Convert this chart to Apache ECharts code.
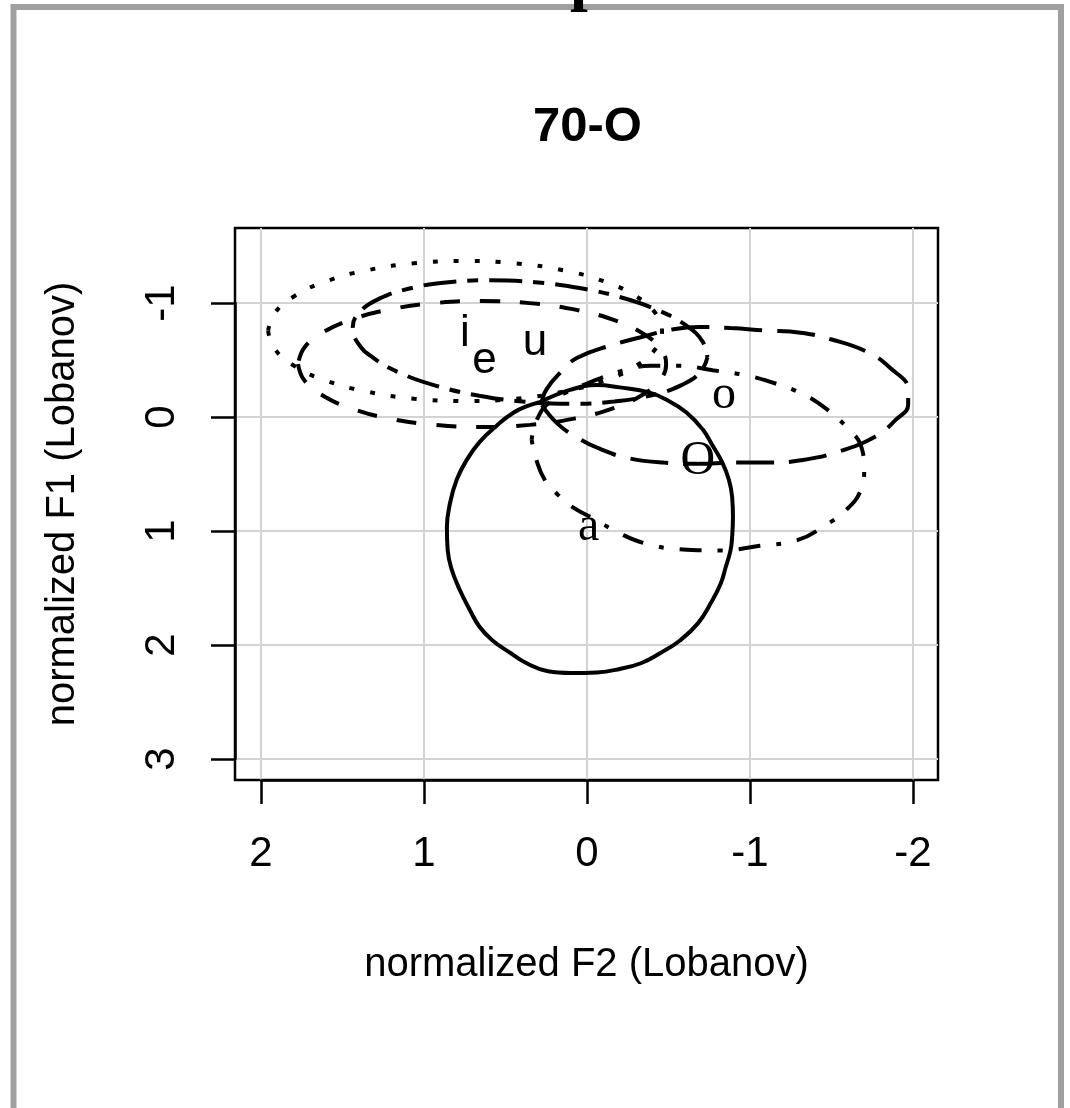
<!DOCTYPE html>
<html>
<head>
<meta charset="utf-8">
<script src="https://cdn.jsdelivr.net/npm/echarts@6.0.0/dist/echarts.min.js"></script>
<style>
  html, body { margin: 0; padding: 0; background: #fff; }
  #chart { width: 1070px; height: 1108px; }
</style>
</head>
<body>
<div id="chart"></div>
<script>
// tick values
const f2Ticks = [2, 1, 0, -1, -2];
const f1Ticks = [-1, 0, 1, 2, 3];

// vowel labels (mean positions), F2 / F1
const vowelNames = ['i', 'e', 'u', 'o', 'O', 'a'];
const vowelF2 = [0.75, 0.63, 0.32, -0.84, -0.68, -0.01];
const vowelF1 = [-0.73, -0.49, -0.65, -0.19, 0.39, 0.97];
const vowelSerif = [false, false, false, true, true, true];

// ellipse outlines, [F2, F1]
const ellipseA = [
  [0.29, -0.13], [0.10, -0.24], [-0.06, -0.28], [-0.20, -0.26], [-0.37, -0.22], [-0.49, -0.15],
  [-0.61, -0.04], [-0.71, 0.11], [-0.77, 0.25], [-0.83, 0.40], [-0.87, 0.55], [-0.89, 0.70],
  [-0.895, 0.88], [-0.89, 1.05], [-0.88, 1.17], [-0.85, 1.32], [-0.82, 1.46], [-0.76, 1.63],
  [-0.68, 1.81], [-0.57, 1.96], [-0.45, 2.07], [-0.33, 2.16], [-0.20, 2.21], [-0.06, 2.24],
  [0.10, 2.245], [0.24, 2.23], [0.37, 2.16], [0.47, 2.07], [0.58, 1.96], [0.66, 1.84],
  [0.72, 1.69], [0.78, 1.52], [0.83, 1.34], [0.855, 1.17], [0.86, 0.97], [0.84, 0.75],
  [0.80, 0.55], [0.74, 0.38], [0.66, 0.22], [0.55, 0.07], [0.45, -0.04], [0.36, -0.10]
];
const ellipseE = [
  [1.773, -0.465], [1.735, -0.322], [1.622, -0.189], [1.442, -0.074], [1.209, 0.014], [0.936, 0.069],
  [0.644, 0.088], [0.352, 0.069], [0.080, 0.014], [-0.154, -0.074], [-0.333, -0.189], [-0.446, -0.322],
  [-0.485, -0.465], [-0.446, -0.608], [-0.333, -0.741], [-0.154, -0.856], [0.080, -0.944], [0.352, -0.999],
  [0.644, -1.017], [0.936, -0.999], [1.209, -0.944], [1.442, -0.856], [1.622, -0.741], [1.735, -0.608]
];
const ellipseI = [
  [1.957, -0.754], [1.916, -0.596], [1.795, -0.447], [1.603, -0.320], [1.353, -0.223], [1.061, -0.161],
  [0.749, -0.140], [0.436, -0.161], [0.144, -0.223], [-0.106, -0.320], [-0.298, -0.447], [-0.419, -0.596],
  [-0.460, -0.754], [-0.419, -0.913], [-0.298, -1.061], [-0.106, -1.189], [0.144, -1.286], [0.436, -1.348],
  [0.749, -1.368], [1.061, -1.348], [1.353, -1.286], [1.603, -1.189], [1.795, -1.061], [1.916, -0.913]
];
const ellipseOpen = [
  [0.34, 0.20], [0.31, 0.38], [0.26, 0.55], [0.18, 0.68], [0.10, 0.78], [-0.05, 0.90],
  [-0.20, 1.02], [-0.36, 1.11], [-0.57, 1.16], [-0.82, 1.17], [-1.06, 1.13], [-1.29, 1.08],
  [-1.44, 0.97], [-1.60, 0.80], [-1.68, 0.64], [-1.70, 0.47], [-1.68, 0.25], [-1.60, 0.10],
  [-1.46, -0.08], [-1.31, -0.21], [-1.12, -0.31], [-0.96, -0.37], [-0.77, -0.41], [-0.57, -0.45],
  [-0.39, -0.45], [-0.23, -0.41], [-0.08, -0.34], [0.07, -0.25], [0.23, -0.13], [0.31, 0.03]
];
const ellipseO = [
  [0.28, -0.11], [0.25, -0.24], [0.15, -0.41], [0.06, -0.52], [-0.15, -0.63], [-0.33, -0.70],
  [-0.53, -0.77], [-0.69, -0.79], [-0.88, -0.78], [-1.09, -0.76], [-1.31, -0.74], [-1.50, -0.68],
  [-1.72, -0.57], [-1.86, -0.43], [-1.97, -0.24], [-1.97, -0.11], [-1.89, 0.03], [-1.77, 0.17],
  [-1.53, 0.31], [-1.31, 0.38], [-1.11, 0.40], [-0.89, 0.40], [-0.69, 0.41], [-0.47, 0.40],
  [-0.25, 0.36], [-0.08, 0.28], [0.06, 0.18], [0.18, 0.06]
];
const ellipseU = [
  [-0.738, -0.522], [-0.693, -0.390], [-0.576, -0.278], [-0.397, -0.191], [-0.166, -0.136], [0.099, -0.116],
  [0.382, -0.134], [0.662, -0.187], [0.921, -0.272], [1.142, -0.383], [1.307, -0.514], [1.409, -0.654],
  [1.437, -0.794], [1.392, -0.925], [1.275, -1.038], [1.096, -1.125], [0.866, -1.180], [0.600, -1.199],
  [0.318, -1.182], [0.037, -1.129], [-0.222, -1.044], [-0.442, -0.932], [-0.608, -0.803], [-0.709, -0.662]
];

const SANS = "'Liberation Sans', Arial, sans-serif";
const SERIF = "'Liberation Serif', 'Times New Roman', serif";

// R line types: solid, dashed, dotted, dotdash, longdash, twodash
const DASHED = [20, 20];
const DOTTED = [5, 16];
const DOTDASH = [5, 16, 22, 16];
const LONGDASH = [38, 15];
const TWODASH = [11, 11, 33, 11];

function ellipseSeries(name, pts, dash) {
  return {
    name: name,
    type: 'line',
    xAxisIndex: 0,
    yAxisIndex: 0,
    data: pts.concat([pts[0]]),
    symbol: 'none',
    smooth: 0.45,
    silent: true,
    z: 3,
    lineStyle: { color: '#000', width: 4, type: dash, cap: 'butt' }
  };
}

const chart = echarts.init(document.getElementById('chart'), null, { renderer: 'canvas' });

const labelData = vowelNames.map((n, k) => ({
  name: n,
  value: [vowelF2[k], vowelF1[k]],
  label: { fontFamily: vowelSerif[k] ? SERIF : SANS, fontSize: vowelSerif[k] ? 48 : 44 }
}));

const option = {
  backgroundColor: '#fff',
  animation: false,
  graphic: [{
    type: 'rect',
    z: -1,
    shape: { x: 13.5, y: 7, width: 1047.5, height: 1200 },
    style: { fill: 'none', stroke: '#a0a0a0', lineWidth: 6 }
  }],
  title: [
    {
      text: '70-O',
      left: 528,
      top: 98,
      textStyle: { fontFamily: SANS, fontSize: 49, fontWeight: 'bold', color: '#000' }
    },
    {
      text: 'p',
      left: 565,
      top: -56,
      z: 10,
      textStyle: { fontFamily: SERIF, fontSize: 64, fontWeight: 'bold', color: '#000' }
    }
  ],
  grid: [
    { left: 235, top: 228, width: 703, height: 552, show: true, borderColor: '#000', borderWidth: 2.5, backgroundColor: 'transparent' },
    { left: 261, top: 228, width: 652, height: 552 },
    { left: 235, top: 303, width: 703, height: 456 }
  ],
  xAxis: [
    {
      gridIndex: 0, type: 'value', min: -2.153, max: 2.16, inverse: true,
      axisLine: { show: false }, axisTick: { show: false }, axisLabel: { show: false }, splitLine: { show: false },
      name: 'normalized F2 (Lobanov)', nameLocation: 'middle', nameGap: 165,
      nameTextStyle: { fontFamily: SANS, fontSize: 40, color: '#000' }
    },
    {
      gridIndex: 1, type: 'value', min: f2Ticks[4], max: f2Ticks[0], interval: 1, inverse: true,
      axisLine: { show: true, lineStyle: { color: '#000', width: 2.5 } },
      axisTick: { show: true, length: 24, lineStyle: { color: '#000', width: 2.5 } },
      axisLabel: { fontFamily: SANS, fontSize: 42, color: '#000', margin: 53 },
      splitLine: { show: true, lineStyle: { color: '#d3d3d3', width: 2 } }
    },
    { gridIndex: 2, type: 'value', show: false }
  ],
  yAxis: [
    {
      gridIndex: 0, type: 'value', min: -1.658, max: 3.184, inverse: true,
      axisLine: { show: false }, axisTick: { show: false }, axisLabel: { show: false }, splitLine: { show: false },
      name: 'normalized F1 (Lobanov)', nameLocation: 'middle', nameGap: 152, nameRotate: 90,
      nameTextStyle: { fontFamily: SANS, fontSize: 40, color: '#000' }
    },
    { gridIndex: 1, type: 'value', show: false },
    {
      gridIndex: 2, type: 'value', min: f1Ticks[0], max: f1Ticks[4], interval: 1, inverse: true,
      axisLine: { show: true, lineStyle: { color: '#000', width: 2.5 } },
      axisTick: { show: true, length: 24, lineStyle: { color: '#000', width: 2.5 } },
      axisLabel: { fontFamily: SANS, fontSize: 42, color: '#000', margin: 52, rotate: 90 },
      splitLine: { show: true, lineStyle: { color: '#d3d3d3', width: 2 } }
    }
  ],
  series: [
    ellipseSeries('a', ellipseA, 'solid'),
    ellipseSeries('e', ellipseE, DASHED),
    ellipseSeries('i', ellipseI, DOTTED),
    ellipseSeries('O', ellipseOpen, DOTDASH),
    ellipseSeries('o', ellipseO, LONGDASH),
    ellipseSeries('u', ellipseU, TWODASH),
    {
      name: 'labels',
      type: 'scatter',
      xAxisIndex: 0,
      yAxisIndex: 0,
      symbolSize: 1,
      itemStyle: { color: '#fff', opacity: 1 },
      silent: true,
      z: 5,
      label: {
        show: true,
        position: 'inside',
        formatter: p => p.name,
        color: '#000',
        opacity: 1,
        textBorderWidth: 0
      },
      data: labelData
    }
  ]
};

chart.setOption(option);
</script>
</body>
</html>
